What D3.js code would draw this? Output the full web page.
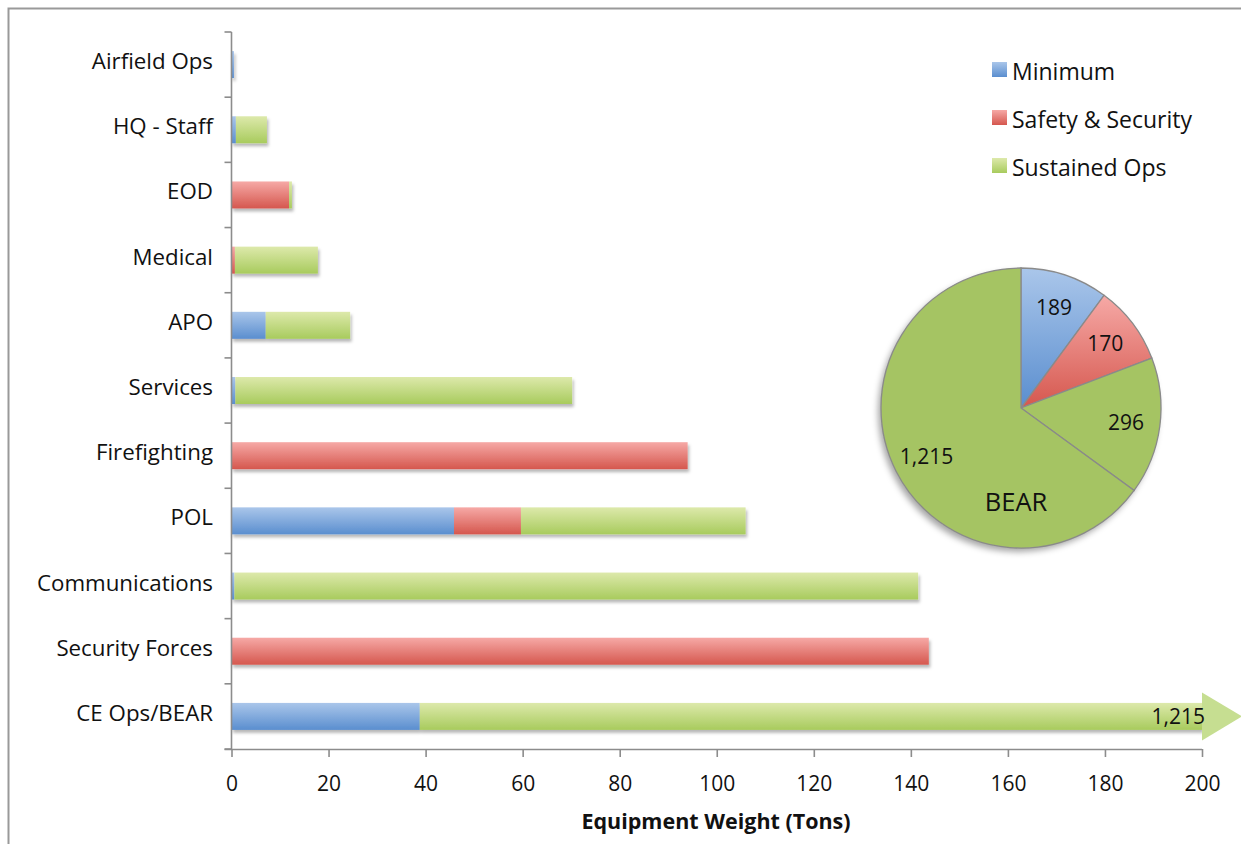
<!DOCTYPE html>
<html>
<head>
<meta charset="utf-8">
<script src="https://cdn.jsdelivr.net/npm/d3@7"></script>
<style>
  html, body { margin: 0; padding: 0; background: #fff; }
  svg { display: block; font-family: "Open Sans", "Lato", sans-serif; }
</style>
</head>
<body>
<svg id="chart" width="1241" height="844"></svg>
<script>
// Equipment weight by functional area (tons), stacked by phase
const categories = ["Airfield Ops", "HQ - Staff", "EOD", "Medical", "APO", "Services",
  "Firefighting", "POL", "Communications", "Security Forces", "CE Ops/BEAR"];
const minimum   = [0.5, 0.9, 0,    0,    7.05, 0.8,  0,    45.85, 0.6,   0,     38.8];
const safety    = [0,   0,   11.85, 0.7, 0,    0,    94.0, 13.8,  0,     143.7, 0];
const sustained = [0,   6.4, 0.6,  17.1, 17.4, 69.4, 0,    46.3,  140.9, 0,     1215];
const seriesNames = ["Minimum", "Safety & Security", "Sustained Ops"];
const xTicks = [0, 20, 40, 60, 80, 100, 120, 140, 160, 180, 200];

// BEAR breakdown (tons)
const pieLabels = ["Minimum", "Safety & Security", "Sustained Ops", "BEAR"];
const pieValues = [189, 170, 296, 1215];

const svg = d3.select("#chart");
const W = 1241, H = 844;
const FONT = "'Open Sans', Lato, sans-serif";

// ---------- defs: gradients and shadows ----------
const defs = svg.append("defs");
const grads = {
  blue:  ["#aac6ea", "#5a8ecf"],
  red:   ["#f6a9a6", "#d5574e"],
  green: ["#dde9ab", "#a8cb5d"]
};
Object.entries(grads).forEach(([k, [c0, c1]]) => {
  const g = defs.append("linearGradient").attr("id", "g-" + k)
    .attr("x1", 0).attr("y1", 0).attr("x2", 0).attr("y2", 1);
  g.append("stop").attr("offset", "0%").attr("stop-color", c0);
  g.append("stop").attr("offset", "100%").attr("stop-color", c1);
});
const shadow = defs.append("filter").attr("id", "barShadow")
  .attr("x", "-5%").attr("y", "-30%").attr("width", "115%").attr("height", "180%");
shadow.append("feDropShadow").attr("dx", 1.5).attr("dy", 3).attr("stdDeviation", 1.8)
  .attr("flood-color", "#000").attr("flood-opacity", 0.28);
const pieShadow = defs.append("filter").attr("id", "pieShadow")
  .attr("x", "-20%").attr("y", "-20%").attr("width", "140%").attr("height", "140%");
pieShadow.append("feDropShadow").attr("dx", -3).attr("dy", 4).attr("stdDeviation", 3)
  .attr("flood-color", "#000").attr("flood-opacity", 0.35);

const seriesFill = ["url(#g-blue)", "url(#g-red)", "url(#g-green)"];

svg.append("rect").attr("width", W).attr("height", H).attr("fill", "#fff");

// outer chart frame (top and left edges visible)
svg.append("path").attr("d", `M8.5,${H} V8.5 H${W}`)
  .attr("fill", "none").attr("stroke", "#999").attr("stroke-width", 2);

// ---------- scales ----------
const plot = { left: 231.5, right: 1202, top: 32, bottom: 749 };
const x = d3.scaleLinear().domain([0, 200]).range([plot.left, plot.right]).clamp(true);
const y = d3.scaleBand().domain(categories).range([plot.top, plot.bottom])
  .paddingInner(0.586).paddingOuter(0.293);

// ---------- stacked bars ----------
const rows = categories.map((c, i) => ({ cat: c, Minimum: minimum[i], "Safety & Security": safety[i], "Sustained Ops": sustained[i] }));
const stack = d3.stack().keys(seriesNames)(rows);

const barG = svg.append("g").attr("filter", "url(#barShadow)");
stack.forEach((layer, si) => {
  barG.selectAll(null).data(layer.filter(d => d[1] > d[0])).enter().append("rect")
    .attr("x", d => x(d[0]))
    .attr("y", d => y(d.data.cat))
    .attr("width", d => Math.max(0, x(d[1]) - x(d[0])))
    .attr("height", y.bandwidth())
    .attr("fill", seriesFill[si]);
});

// overflow arrow for the bar that runs past the axis maximum
const overflow = rows.filter(r => seriesNames.reduce((s, k) => s + r[k], 0) > x.domain()[1]);
overflow.forEach(r => {
  const yc = y(r.cat) + y.bandwidth() / 2;
  const x0 = x(x.domain()[1]);
  svg.append("path")
    .attr("d", `M${x0},${yc - 24} L${x0 + 40},${yc} L${x0},${yc + 24} Z`)
    .attr("fill", "#c6de91");
  svg.append("text")
    .attr("x", x0 + 3).attr("y", yc + 8)
    .attr("text-anchor", "end").attr("font-size", 21).attr("fill", "#111")
    .text(d3.format(",")(r["Sustained Ops"]));
});

// ---------- axes ----------
const axisColor = "#8c8c8c";
// y axis line and category-boundary ticks
svg.append("line").attr("x1", plot.left).attr("x2", plot.left)
  .attr("y1", plot.top).attr("y2", plot.bottom)
  .attr("stroke", axisColor).attr("stroke-width", 1.6);
const bounds = d3.range(categories.length + 1).map(i => plot.top + i * y.step());
svg.selectAll(null).data(bounds).enter().append("line")
  .attr("x1", plot.left - 7).attr("x2", plot.left)
  .attr("y1", d => d).attr("y2", d => d)
  .attr("stroke", axisColor).attr("stroke-width", 1.6);
svg.selectAll(null).data(categories).enter().append("text")
  .attr("x", 213)
  .attr("y", d => y(d) + y.bandwidth() / 2 + 4.5)
  .attr("text-anchor", "end").attr("font-size", 22.3).attr("fill", "#111")
  .text(d => d);

// x axis
const xAxis = svg.append("g").attr("transform", `translate(0,${plot.bottom})`)
  .call(d3.axisBottom(x).tickValues(xTicks).tickSize(8));
xAxis.select(".domain").attr("stroke", axisColor).attr("stroke-width", 1.6)
  .attr("d", `M${plot.left - 7},0.5H${plot.right}`);
xAxis.selectAll(".tick line").attr("stroke", axisColor).attr("stroke-width", 1.6);
xAxis.selectAll(".tick text").attr("y", 42).attr("dy", 0)
  .attr("font-size", 21).attr("fill", "#111").attr("font-family", FONT);

svg.append("text")
  .attr("x", 716).attr("y", 829)
  .attr("text-anchor", "middle").attr("font-size", 21.5).attr("font-weight", "bold")
  .attr("fill", "#111")
  .text("Equipment Weight (Tons)");

// ---------- legend ----------
const legend = svg.append("g").attr("transform", "translate(992,62)");
seriesNames.forEach((n, i) => {
  const g = legend.append("g").attr("transform", `translate(0,${i * 48})`);
  g.append("rect").attr("width", 15).attr("height", 15).attr("fill", seriesFill[i]);
  g.append("text").attr("x", 20).attr("y", 18).attr("font-size", 23).attr("fill", "#111").text(n);
});

// ---------- BEAR pie ----------
const pc = { x: 1021, y: 408 }, R = 140;
const pieFill = ["url(#g-blue)", "url(#g-red)", "#a5c463", "#a5c463"];
const arcs = d3.pie().sort(null).value(d => d)(pieValues);
const arc = d3.arc().innerRadius(0).outerRadius(R);
const labelArc = d3.arc().innerRadius(106).outerRadius(106);
const pieG = svg.append("g").attr("transform", `translate(${pc.x},${pc.y})`);
pieG.append("circle").attr("r", R).attr("fill", "#a5c463").attr("filter", "url(#pieShadow)");
pieG.selectAll(null).data(arcs).enter().append("path")
  .attr("d", arc)
  .attr("fill", (d, i) => pieFill[i])
  .attr("stroke", "#8a8a8a").attr("stroke-width", 1.3);
pieG.selectAll(null).data(arcs).enter().append("text")
  .attr("transform", d => `translate(${labelArc.centroid(d)})`)
  .attr("dy", 7.5).attr("text-anchor", "middle").attr("font-size", 21).attr("fill", "#111")
  .text(d => d3.format(",")(d.data));
pieG.append("text").attr("x", -5).attr("y", 103)
  .attr("text-anchor", "middle").attr("font-size", 25.5).attr("fill", "#111")
  .text(pieLabels[3]);
</script>
</body>
</html>
